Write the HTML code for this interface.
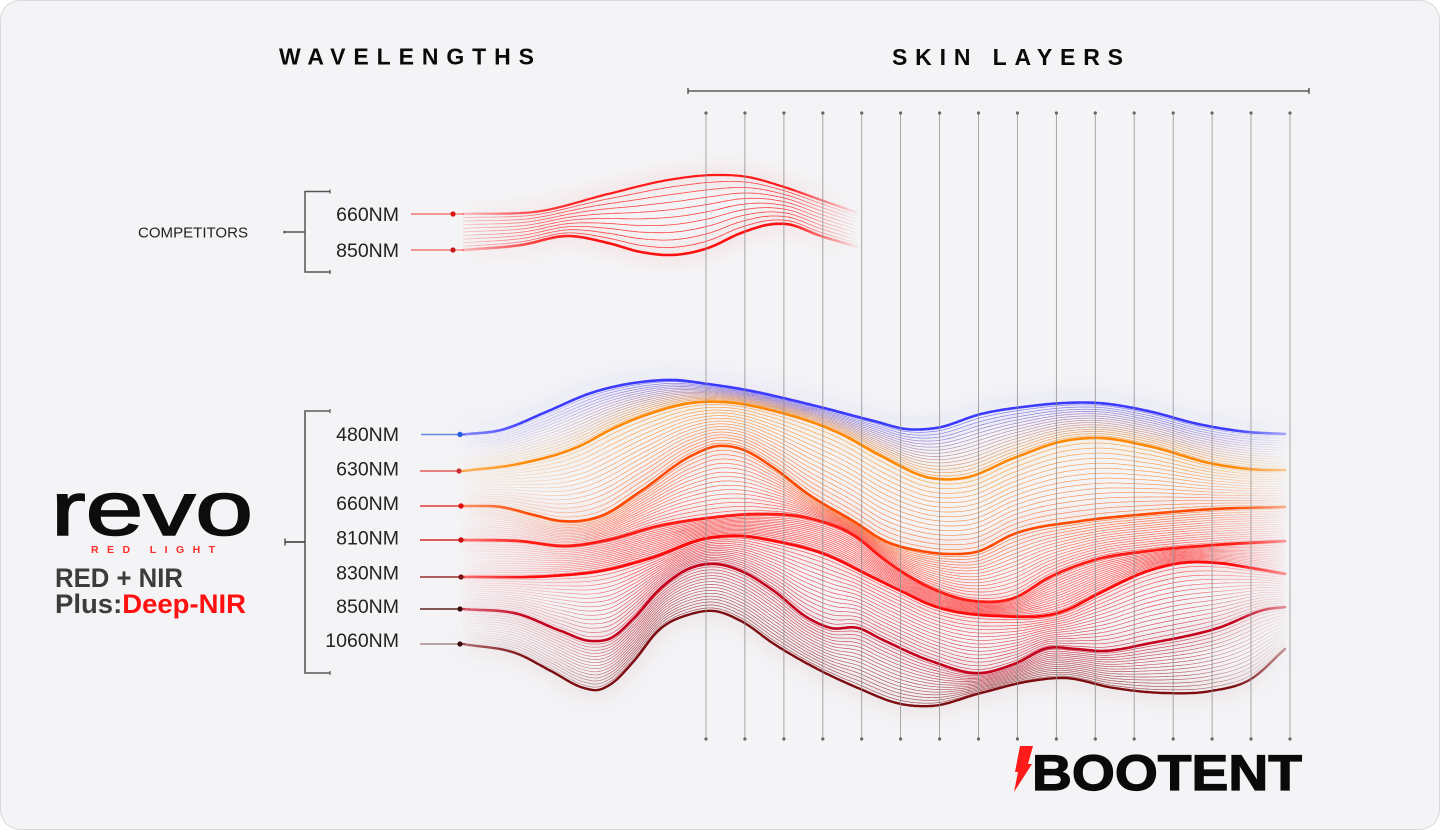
<!DOCTYPE html>
<html><head><meta charset="utf-8">
<style>
html,body{margin:0;padding:0;background:#ffffff;width:1440px;height:830px;overflow:hidden}
.card{position:absolute;left:0;top:0;width:1440px;height:830px;box-sizing:border-box;border:1px solid #d9d9dd;border-radius:20px;background:#f4f4f6;overflow:hidden}
svg{position:absolute;left:0;top:0}
text{font-family:"Liberation Sans",Arial,sans-serif}
</style></head><body>
<div class="card">
<svg id="s" width="1440" height="830" viewBox="0 0 1440 830">
<defs>
  <linearGradient id="gi" gradientUnits="userSpaceOnUse" x1="460" y1="0" x2="1290" y2="0">
    <stop offset="0" stop-color="#fff" stop-opacity="0.04"/>
    <stop offset="0.1" stop-color="#fff" stop-opacity="0.4"/>
    <stop offset="0.2" stop-color="#fff" stop-opacity="1"/>
    <stop offset="0.87" stop-color="#fff" stop-opacity="1"/>
    <stop offset="1" stop-color="#fff" stop-opacity="0.04"/>
  </linearGradient>
  <linearGradient id="gm" gradientUnits="userSpaceOnUse" x1="460" y1="0" x2="1290" y2="0">
    <stop offset="0" stop-color="#fff" stop-opacity="0.55"/>
    <stop offset="0.08" stop-color="#fff" stop-opacity="1"/>
    <stop offset="0.93" stop-color="#fff" stop-opacity="1"/>
    <stop offset="1" stop-color="#fff" stop-opacity="0.35"/>
  </linearGradient>
  <linearGradient id="gc" gradientUnits="userSpaceOnUse" x1="460" y1="0" x2="860" y2="0">
    <stop offset="0" stop-color="#fff" stop-opacity="0.25"/>
    <stop offset="0.2" stop-color="#fff" stop-opacity="0.85"/>
    <stop offset="0.35" stop-color="#fff" stop-opacity="1"/>
    <stop offset="0.82" stop-color="#fff" stop-opacity="1"/>
    <stop offset="1" stop-color="#fff" stop-opacity="0"/>
  </linearGradient>
  <mask id="mi" maskUnits="userSpaceOnUse" x="0" y="0" width="1440" height="830"><rect x="0" y="0" width="1440" height="830" fill="url(#gi)"/></mask>
  <mask id="mm" maskUnits="userSpaceOnUse" x="0" y="0" width="1440" height="830"><rect x="0" y="0" width="1440" height="830" fill="url(#gm)"/></mask>
  <mask id="mc" maskUnits="userSpaceOnUse" x="0" y="0" width="1440" height="830"><rect x="0" y="0" width="1440" height="830" fill="url(#gc)"/></mask>
  <filter id="blur" filterUnits="userSpaceOnUse" x="350" y="100" width="1050" height="700"><feGaussianBlur stdDeviation="9"/></filter>
</defs>

<!-- headers -->
<text x="278" y="63.5" font-size="23" font-weight="bold" fill="#0a0a0a" textLength="255" lengthAdjust="spacing">WAVELENGTHS</text>
<text x="891" y="64" font-size="23" font-weight="bold" fill="#0a0a0a" textLength="231" lengthAdjust="spacing">SKIN LAYERS</text>
<line x1="687" y1="90" x2="1308" y2="90" stroke="#3a3a3a" stroke-width="1.3"/>
<line x1="687" y1="87" x2="687" y2="93" stroke="#3a3a3a" stroke-width="1.2"/>
<line x1="1308" y1="87" x2="1308" y2="93" stroke="#3a3a3a" stroke-width="1.2"/>

<!-- curves -->
<g id="glowC" filter="url(#blur)" mask="url(#mc)"></g>
<g id="glowM" filter="url(#blur)" mask="url(#mm)"></g>
<g id="cI" mask="url(#mc)"></g>
<g id="cM" mask="url(#mc)"></g>
<g id="mI" mask="url(#mi)"></g>
<g id="mM" mask="url(#mm)"></g>

<!-- vertical skin layer lines -->
<g id="vl" stroke="#8e8e8e" stroke-width="0.9" stroke-opacity="0.85"></g>

<!-- competitors -->
<text x="137" y="236.5" font-size="15" fill="#222" textLength="110" lengthAdjust="spacingAndGlyphs">COMPETITORS</text>
<path d="M329 190.5 H304 V271 H329" stroke="#555" stroke-width="1.5" fill="none"/>
<line x1="329" y1="188.5" x2="329" y2="192.5" stroke="#555" stroke-width="1.2"/>
<line x1="329" y1="269" x2="329" y2="273" stroke="#555" stroke-width="1.2"/>
<line x1="283" y1="231" x2="304" y2="231" stroke="#555" stroke-width="1.4"/>
<circle cx="283.5" cy="231" r="1.3" fill="#555"/>
<text x="398" y="220" font-size="19.5" fill="#222" text-anchor="end">660NM</text>
<text x="398" y="256" font-size="19.5" fill="#222" text-anchor="end">850NM</text>
<line x1="410" y1="213" x2="452" y2="213" stroke="#f07878" stroke-width="1.6"/>
<line x1="452" y1="213" x2="463" y2="213" stroke="#ff3030" stroke-width="0.8"/>
<circle cx="452" cy="213" r="2.6" fill="#e01010"/>
<line x1="410" y1="249" x2="452" y2="249" stroke="#f07878" stroke-width="1.6"/>
<line x1="452" y1="249" x2="463" y2="249" stroke="#ff3030" stroke-width="0.8"/>
<circle cx="452" cy="249" r="2.6" fill="#c81818"/>

<!-- main bracket -->
<path d="M329 410 H304 V672 H329" stroke="#5a5a5a" stroke-width="1.6" fill="none"/>
<line x1="329" y1="408" x2="329" y2="412" stroke="#555" stroke-width="1.2"/>
<line x1="329" y1="670" x2="329" y2="674" stroke="#555" stroke-width="1.2"/>
<line x1="284" y1="541" x2="304" y2="541" stroke="#333" stroke-width="1.4"/>
<line x1="284" y1="537.5" x2="284" y2="544.5" stroke="#333" stroke-width="1.2"/>

<text x="398" y="440" font-size="19.5" fill="#222" text-anchor="end">480NM</text>
<text x="398" y="474.5" font-size="19.5" fill="#222" text-anchor="end">630NM</text>
<text x="398" y="509" font-size="19.5" fill="#222" text-anchor="end">660NM</text>
<text x="398" y="543.5" font-size="19.5" fill="#222" text-anchor="end">810NM</text>
<text x="398" y="578.5" font-size="19.5" fill="#222" text-anchor="end">830NM</text>
<text x="398" y="612" font-size="19.5" fill="#222" text-anchor="end">850NM</text>
<text x="398" y="646" font-size="19.5" fill="#222" text-anchor="end">1060NM</text>

<g stroke-width="1.5">
  <line x1="420" y1="433.5" x2="459" y2="433.5" stroke="#6688e4"/>
  <line x1="419" y1="470" x2="459" y2="470" stroke="#e05a5a"/>
  <line x1="419" y1="505" x2="459" y2="505" stroke="#e03a3a"/>
  <line x1="419" y1="539" x2="459" y2="539" stroke="#d42626"/>
  <line x1="419" y1="576" x2="459" y2="576" stroke="#9c2a2a"/>
  <line x1="419" y1="608" x2="459" y2="608" stroke="#5a2222"/>
  <line x1="419" y1="643" x2="459" y2="643" stroke="#a88a8a"/>
</g>
<g stroke-width="0.8">
  <line x1="459" y1="433.5" x2="464" y2="433.5" stroke="#3b3bff"/>
  <line x1="459" y1="470" x2="464" y2="470" stroke="#ff8800"/>
  <line x1="459" y1="505" x2="464" y2="505" stroke="#ff4a00"/>
  <line x1="459" y1="539" x2="464" y2="539" stroke="#ff1a14"/>
  <line x1="459" y1="576" x2="464" y2="576" stroke="#ff0a0a"/>
  <line x1="459" y1="608" x2="464" y2="608" stroke="#c4001c"/>
  <line x1="459" y1="643" x2="464" y2="643" stroke="#7c0c10"/>
</g>
<circle cx="459" cy="433.5" r="2.7" fill="#2a5fe0"/>
<circle cx="458" cy="470" r="2.6" fill="#c83030"/>
<circle cx="460" cy="505" r="2.7" fill="#e01010"/>
<circle cx="460" cy="539" r="2.7" fill="#c81010"/>
<circle cx="460" cy="576" r="2.6" fill="#7a1212"/>
<circle cx="459" cy="608" r="2.6" fill="#3c0c0c"/>
<circle cx="459" cy="643" r="2.6" fill="#3c0c0c"/>

<!-- REVO logo -->
<text x="50" y="534" font-size="76" fill="#0d0d0d" stroke="#0d0d0d" stroke-width="1.6" textLength="202" lengthAdjust="spacingAndGlyphs">revo</text>
<text x="90" y="552" font-size="10.5" font-weight="bold" fill="#ff2a2a" textLength="124" lengthAdjust="spacing">RED LIGHT</text>
<text x="54" y="586" font-size="27" font-weight="bold" fill="#3c3c3c" textLength="128" lengthAdjust="spacingAndGlyphs">RED + NIR</text>
<text x="54" y="612" font-size="27" font-weight="bold" fill="#3c3c3c" textLength="191" lengthAdjust="spacingAndGlyphs">Plus:<tspan fill="#ff1010">Deep-NIR</tspan></text>

<!-- BOOTENT logo -->
<polygon points="1019,745 1032,745 1027,763 1031,763 1013,791 1017,771 1014,771" fill="#ff1a1a"/>
<text x="1031" y="789" font-size="50" font-weight="bold" fill="#0a0a0a" stroke="#0a0a0a" stroke-width="1.2" textLength="270" lengthAdjust="spacingAndGlyphs">BOOTENT</text>
</svg>
</div>
<script>
(function(){
var NS="http://www.w3.org/2000/svg";
function sp(p){
  var n=p.length,m=[];
  for(var i=0;i<n;i++){
    if(i==0)m.push((p[1][1]-p[0][1])/(p[1][0]-p[0][0]));
    else if(i==n-1)m.push((p[n-1][1]-p[n-2][1])/(p[n-1][0]-p[n-2][0]));
    else{var h0=p[i][0]-p[i-1][0],h1=p[i+1][0]-p[i][0];var d0=(p[i][1]-p[i-1][1])/h0;var d1=(p[i+1][1]-p[i][1])/h1;m.push((d0*h1+d1*h0)/(h0+h1));}
  }
  return function(x){
    var i=0;while(i<n-2&&x>p[i+1][0])i++;
    var x0=p[i][0],x1=p[i+1][0],h=x1-x0,t=(x-x0)/h;t=Math.max(0,Math.min(1,t));
    var t2=t*t,t3=t2*t;
    return (2*t3-3*t2+1)*p[i][1]+(t3-2*t2+t)*h*m[i]+(-2*t3+3*t2)*p[i+1][1]+(t3-t2)*h*m[i+1];
  };
}
function mk(tag,a,par){var e=document.createElementNS(NS,tag);for(var k in a)e.setAttribute(k,a[k]);par.appendChild(e);return e;}
function hx(c){return [parseInt(c.substr(1,2),16),parseInt(c.substr(3,2),16),parseInt(c.substr(5,2),16)];}
function mix(a,b,t){var A=hx(a),B=hx(b);return 'rgb('+Math.round(A[0]+(B[0]-A[0])*t)+','+Math.round(A[1]+(B[1]-A[1])*t)+','+Math.round(A[2]+(B[2]-A[2])*t)+')';}
function pth(xs,ys){var s='M'+xs[0]+' '+ys[0].toFixed(1);for(var i=1;i<xs.length;i++)s+='L'+xs[i]+' '+ys[i].toFixed(1);return s;}
function bundle(curves,colors,x0,x1,N,gI,gM,gG,widths,iw,iop,gw){
  var xs=[];for(var x=x0;x<=x1;x+=2)xs.push(x);
  var Y=curves.map(function(c){var f=sp(c);return xs.map(f);});
  for(var g=0;g<Y.length-1;g++){
    for(var k=1;k<N;k++){
      var t=k/N;
      var ys=Y[g].map(function(v,i){return v*(1-t)+Y[g+1][i]*t;});
      mk('path',{d:pth(xs,ys),stroke:mix(colors[g],colors[g+1],t),'stroke-width':iw,fill:'none','stroke-opacity':iop},gI);
    }
  }
  for(var c=0;c<Y.length;c++){
    var d=pth(xs,Y[c]);
    mk('path',{d:d,stroke:colors[c],'stroke-width':gw,fill:'none','stroke-opacity':0.07},gG);
    mk('path',{d:d,stroke:colors[c],'stroke-width':widths[c],fill:'none','stroke-linecap':'round'},gM);
  }
}
var C1=[[462,433.5],[500,429],[545,411],[590,392],[640,381],[673,379],[707,383],[740,388],[807,403],[873,420],[905,428],[935,427],[980,413],[1030,405],[1063,402],[1097,402],[1147,410],[1197,423],[1247,431],[1285,433]];
var C2=[[462,470],[517,463],[583,443],[607,430],[657,410],[690,402],[723,401],[773,410],[840,433],[880,455],[930,477],[963,477],[1013,457],[1063,440],[1097,437],[1147,445],[1213,463],[1263,469],[1285,469]];
var C3=[[462,505],[500,506],[533,514],[560,520],[600,515],[640,490],[690,455],[717,445],[740,448],[773,467],[807,493],[857,523],[880,538],[920,550],[950,553],[975,551],[1013,533],[1080,520],[1147,513],[1213,508],[1285,506]];
var C4=[[462,539],[517,540],[567,545],[607,539],[657,525],[707,517],[757,513],[807,517],[857,537],[880,556],[930,587],[973,600],[1013,597],[1047,577],[1097,558],[1147,550],[1213,544],[1285,540]];
var C5=[[462,576],[550,575],[600,570],[650,557],[707,537],[740,535],[773,540],[823,553],[873,577],[900,590],[930,604],[997,615],[1063,610],[1097,593],[1147,570],[1180,562],[1217,562],[1250,567],[1285,573]];
var C6=[[462,608],[517,613],[560,630],[590,640],[610,637],[633,617],[657,590],[690,567],[713,563],[740,570],[773,590],[807,617],[830,627],[857,627],[880,638],[930,660],[980,672],[1013,663],[1047,647],[1075,648],[1100,650],[1150,642],[1217,627],[1267,608],[1285,606]];
var C7=[[462,643],[517,653],[550,670],[583,687],[597,689],[610,683],[633,660],[657,630],[690,613],[713,610],[740,620],[773,643],[807,663],[857,687],[900,703],[930,705],[980,692],[1030,680],[1063,677],[1113,687],[1163,692],[1210,690],[1250,678],[1285,647]];
var cols=['#3b3bff','#ff8800','#ff4a00','#ff1a14','#ff0a0a','#c4001c','#7c0c10'];
bundle([C1,C2,C3,C4,C5,C6,C7],cols,462,1285,16,
  document.getElementById('mI'),document.getElementById('mM'),document.getElementById('glowM'),
  [2.6,2.6,2.6,2.8,2.8,2.6,2.4],0.65,0.7,16);
var CA=[[462,213],[540,210],[607,193],[673,178],[713,174],[747,176],[780,185],[820,199],[857,212]];
var CB=[[462,249],[520,244],[567,235],[607,242],[640,251],[670,254],[707,247],[740,232],[773,223],[785,223],[820,235],[857,246]];
bundle([CA,CB],['#ff1a1a','#ff1010'],462,857,10,
  document.getElementById('cI'),document.getElementById('cM'),document.getElementById('glowC'),
  [2.2,2.6],0.8,0.8,16);
var vl=document.getElementById('vl');
for(var i=0;i<16;i++){
  var x=(705+i*38.93).toFixed(1);
  mk('line',{x1:x,y1:112,x2:x,y2:738},vl);
  mk('circle',{cx:x,cy:112,r:1.6,fill:'#666',stroke:'none'},vl);
  mk('circle',{cx:x,cy:738,r:1.6,fill:'#666',stroke:'none'},vl);
}
})();
</script>
</body></html>
